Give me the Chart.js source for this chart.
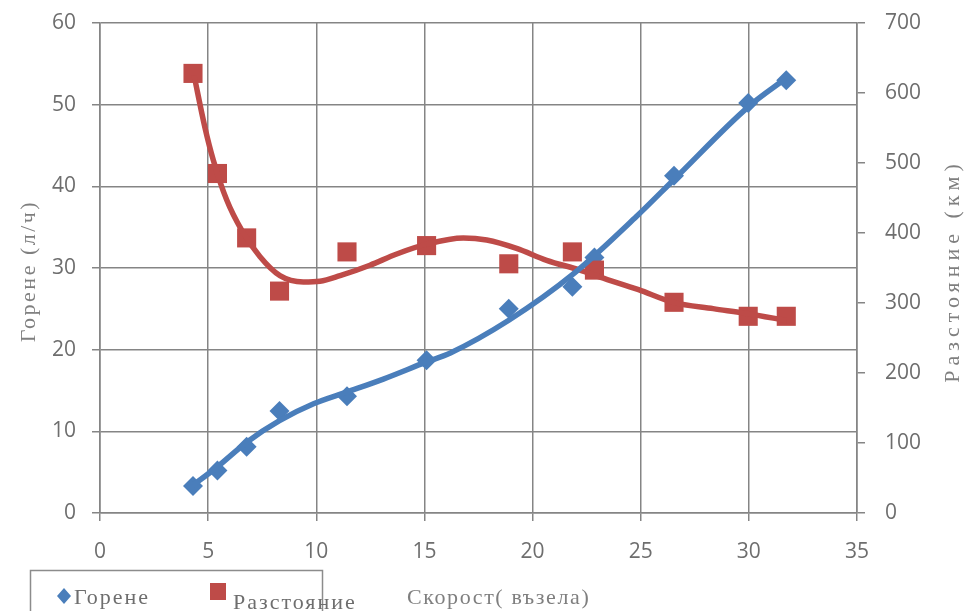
<!DOCTYPE html>
<html>
<head>
<meta charset="utf-8">
<script src="https://cdn.jsdelivr.net/npm/chart.js@4"></script>
<style>
  html, body { margin: 0; padding: 0; background: #fff; }
</style>
</head>
<body>
<canvas id="myChart" width="966" height="611"></canvas>
<script>
// measured points (speed in knots)
const speed = [4.3, 5.43, 6.78, 8.3, 11.42, 15.1, 18.9, 21.84, 22.86, 26.54, 29.97, 31.73];
const fuel = [3.3, 5.2, 8.1, 12.5, 14.3, 18.7, 25.0, 27.7, 31.3, 41.3, 50.2, 53.0];
const distance = [628, 485, 393, 317, 373, 382, 356, 373, 347, 301, 281, 281];

// trend lines
const fuelTrendX = [4.3, 5.4, 6.8, 8.3, 9.9, 11.4, 13.1, 15.1, 16.2, 18.9, 21.9, 24.8, 26.6, 30.0, 31.7];
const fuelTrendY = [3.4, 5.6, 8.7, 11.3, 13.4, 14.8, 16.4, 18.5, 19.6, 23.6, 29.3, 36.3, 41.0, 49.8, 53.2];
const distTrendX = [4.35, 4.85, 5.24, 5.86, 6.55, 7.4, 8.32, 9.4, 10.17, 11.1, 12.48, 13.72, 15.1, 16.8, 17.88, 19.26, 20.65, 22.19, 23.12, 24.9, 26.5, 28.35, 29.9, 31.75];
const distTrendY = [625, 551, 504, 447, 404, 366, 339, 330, 331, 339, 354, 370, 384, 393, 390, 378, 361, 347, 337, 319, 301, 292, 285, 275];

const xTicks = [0, 5, 10, 15, 20, 25, 30, 35];
const leftTicks = [0, 10, 20, 30, 40, 50, 60];
const rightTicks = [0, 100, 200, 300, 400, 500, 600, 700];

const seriesNames = ['Горене', 'Разстояние'];
const xTitle = 'Скорост( възела)';
const leftTitle = 'Горене (л/ч)';
const rightTitle = 'Разстояние (км)';

const blue = '#4a7ebb';
const red = '#be4b48';
const gridColor = '#858585';
const tickFont = { family: 'Open Sans', size: 21 };

const pts = (xs, ys) => xs.map((x, i) => ({ x: x, y: ys[i] }));

// fixed axis sizes so the plot sits where it does in the original
const fixSize = (w, h) => s => {
  if (w) s.width = w;
  if (h) s.height = h;
  s.paddingTop = 0;
  s.paddingBottom = 0;
  s.paddingLeft = 0;
  s.paddingRight = 0;
};

// titles + legend box drawn by hand, like the original
const extras = {
  id: 'extras',
  afterDraw(chart) {
    const ctx = chart.ctx;
    const area = chart.chartArea;
    const midY = (area.top + area.bottom) / 2;
    ctx.save();
    ctx.font = '22px "Liberation Serif"';
    ctx.fillStyle = '#7f7f7f';
    ctx.textBaseline = 'middle';
    ctx.textAlign = 'center';

    ctx.save();
    ctx.letterSpacing = '2.5px';
    ctx.translate(29, midY + 3);
    ctx.rotate(-Math.PI / 2);
    ctx.fillText(leftTitle, 0, 0);
    ctx.restore();

    ctx.save();
    ctx.letterSpacing = '5px';
    ctx.translate(953, midY + 3);
    ctx.rotate(-Math.PI / 2);
    ctx.fillText(rightTitle, 0, 0);
    ctx.restore();

    ctx.letterSpacing = '1.6px';
    ctx.textAlign = 'left';
    ctx.textBaseline = 'alphabetic';
    ctx.fillText(xTitle, 407, 604);

    // legend
    ctx.strokeStyle = '#8c8c8c';
    ctx.lineWidth = 1.5;
    ctx.strokeRect(30.5, 570.5, 292, 60);

    ctx.fillStyle = blue;
    ctx.beginPath();
    ctx.moveTo(64, 588);
    ctx.lineTo(71, 596);
    ctx.lineTo(64, 604);
    ctx.lineTo(57, 596);
    ctx.closePath();
    ctx.fill();

    ctx.fillStyle = red;
    ctx.fillRect(210, 583, 16, 17);

    ctx.letterSpacing = '2px';
    ctx.fillStyle = '#6e6e6e';
    ctx.fillText(seriesNames[0], 74, 604);
    ctx.fillText(seriesNames[1], 233, 609);
    ctx.restore();
  }
};

const ctx = document.getElementById('myChart');
const chart = new Chart(ctx, {
  type: 'scatter',
  data: {
    datasets: [
      {
        label: seriesNames[0] + ' тренд',
        data: pts(fuelTrendX, fuelTrendY),
        yAxisID: 'y',
        showLine: true,
        borderColor: blue,
        borderWidth: 5.5,
        pointRadius: 0,
        cubicInterpolationMode: 'monotone',
        order: 0
      },
      {
        label: seriesNames[1] + ' тренд',
        data: pts(distTrendX, distTrendY),
        yAxisID: 'y2',
        showLine: true,
        borderColor: red,
        borderWidth: 5.5,
        pointRadius: 0,
        cubicInterpolationMode: 'monotone',
        order: 1
      },
      {
        label: seriesNames[1],
        data: pts(speed, distance),
        yAxisID: 'y2',
        pointStyle: 'rect',
        pointRadius: 13.5,
        pointBackgroundColor: red,
        pointBorderColor: red,
        pointBorderWidth: 0,
        order: 2
      },
      {
        label: seriesNames[0],
        data: pts(speed, fuel),
        yAxisID: 'y',
        pointStyle: 'rectRot',
        pointRadius: 10,
        pointBackgroundColor: blue,
        pointBorderColor: blue,
        pointBorderWidth: 0,
        order: 3
      }
    ]
  },
  options: {
    responsive: false,
    animation: false,
    layout: { padding: { top: 23, bottom: 48, left: 0, right: 0 } },
    plugins: {
      legend: { display: false },
      tooltip: { enabled: false }
    },
    scales: {
      x: {
        type: 'linear',
        min: 0,
        max: 35,
        afterBuildTicks: s => { s.ticks = xTicks.map(v => ({ value: v })); },
        afterFit: fixSize(0, 50),
        ticks: { color: '#6e6e6e', font: tickFont, padding: 18 },
        grid: { color: gridColor, lineWidth: 1.5, tickLength: 8, tickColor: gridColor },
        border: { color: gridColor, width: 1.6 }
      },
      y: {
        position: 'left',
        min: 0,
        max: 60,
        afterBuildTicks: s => { s.ticks = leftTicks.map(v => ({ value: v })); },
        afterFit: fixSize(100, 0),
        ticks: { color: '#6e6e6e', font: tickFont, padding: 16 },
        grid: { color: gridColor, lineWidth: 1.5, tickLength: 8, tickColor: gridColor },
        border: { color: gridColor, width: 1.6 }
      },
      y2: {
        position: 'right',
        min: 0,
        max: 700,
        afterBuildTicks: s => { s.ticks = rightTicks.map(v => ({ value: v })); },
        afterFit: fixSize(109, 0),
        ticks: { color: '#6e6e6e', font: tickFont, padding: 20 },
        grid: { drawOnChartArea: false, tickLength: 8, tickColor: gridColor, lineWidth: 1.5 },
        border: { color: gridColor, width: 1.6 }
      }
    }
  },
  plugins: [extras]
});
</script>
</body>
</html>
